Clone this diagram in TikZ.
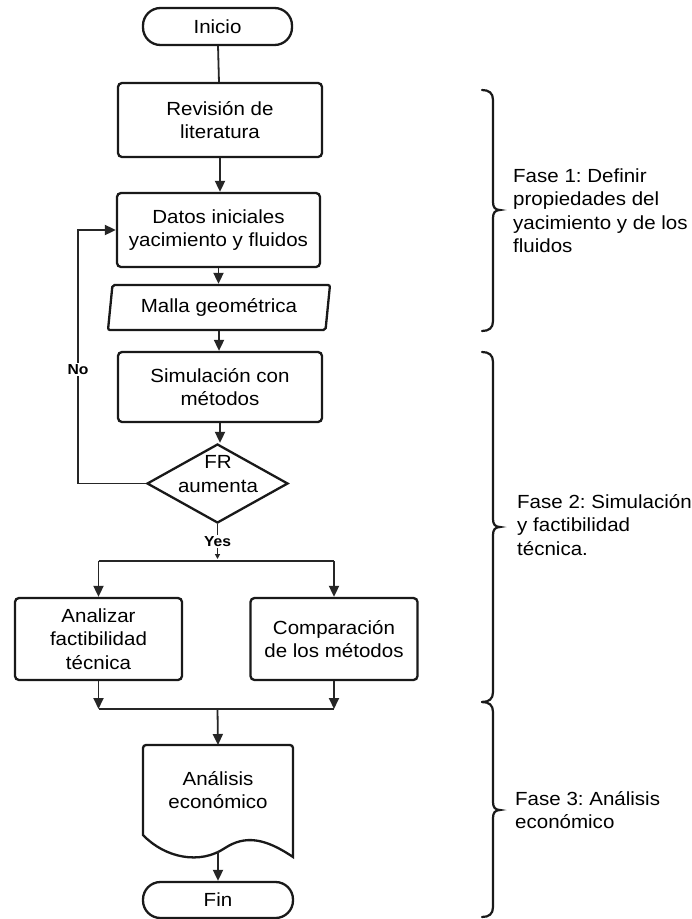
\documentclass[tikz,border=0pt]{standalone}
\usepackage{fontspec}
\setmainfont{Liberation Sans}[FakeStretch=1.08]
\frenchspacing
\usetikzlibrary{shapes.geometric,arrows.meta,calc}
\newcommand\phbrace[3]{%
  \draw[brc] (482,#1) .. controls (489,#1) and (493,#1+3) .. (493,#1+10)
    -- (493,#3-8) .. controls (493,#3-3) and (495,#3) .. (500,#3)
    .. controls (495,#3) and (493,#3+3) .. (493,#3+8)
    -- (493,#2-10) .. controls (493,#2-3) and (489,#2) .. (482,#2);}
\begin{document}
\begin{tikzpicture}[x=1pt,y=-1pt,
  every node/.style={font=\fontsize{19}{23.5}\selectfont, text=black},
  box/.style={draw=black!90, line width=2.3pt, rounded corners=4pt, align=center, inner sep=0pt},
  term/.style={draw=black!90, line width=2.3pt, rounded corners=17.5pt, inner sep=0pt},
  conn/.style={line width=1.8pt, draw=black!85},
  arr/.style={conn, -{Triangle[length=11pt,width=10pt]}},
  lbl/.style={font=\bfseries\fontsize{14.5}{16}\selectfont, fill=white, inner sep=1.5pt},
  phase/.style={align=left, anchor=west, inner sep=0pt},
  brc/.style={line width=2.2pt, line cap=round, draw=black!90}
]
\fill[white] (0,0) rectangle (692,919);
\useasboundingbox (0,0) rectangle (692,919);

% nodes
\node[term, minimum width=149pt, minimum height=37pt] (inicio) at (217.5,26.5) {Inicio};
\node[box, minimum width=204pt, minimum height=74pt] (rev) at (220,120) {Revisión de\\literatura};
\node[box, minimum width=203pt, minimum height=74pt] (datos) at (218.5,230) {Datos iniciales\\yacimiento y fluidos};
\node[draw=black!90, line width=2.3pt, trapezium, trapezium left angle=76, trapezium right angle=104,
      trapezium stretches body, minimum width=222pt, minimum height=45pt, inner sep=0pt, rounded corners=2pt]
      (malla) at (219,307.5) {Malla geométrica};
\node[box, minimum width=204pt, minimum height=70pt] (sim) at (220,387) {Simulación con\\métodos};
\node[draw=black!90, line width=2.3pt, diamond, minimum width=141pt, minimum height=79pt, inner sep=0pt] (fr) at (217.5,483.5) {};
\node[align=center, inner sep=0pt] (frtext) at (218,474) {FR\\aumenta};
\node[box, minimum width=167pt, minimum height=82pt] (anal) at (98.5,639) {Analizar\\factibilidad\\técnica};
\node[box, minimum width=167pt, minimum height=82pt] (comp) at (334,639) {Comparación\\de los métodos};
\draw[line width=2.3pt, draw=black!90] (143,835) [rounded corners=3pt] -- (143,745) -- (293,745) [sharp corners] -- (293,857)
   .. controls (265,838) and (245,835) .. (225,848) .. controls (200,865) and (165,858) .. (143,835) -- cycle;
\node[align=center, inner sep=0pt] (doc) at (218,790) {Análisis\\económico};
\coordinate (doctop) at (218,745);
\coordinate (docbot) at (218,851);
\node[term, minimum width=150pt, minimum height=36pt] (fin) at (218,900) {Fin};

% connectors
\draw[conn] (inicio) -- (rev);
\draw[arr] (rev) -- (rev.south |- datos.north);
\draw[arr] (datos.south) -- (datos.south |- malla.north);
\draw[arr] (malla.south) -- (malla.south |- sim.north);
\draw[arr] (sim.south) -- (sim.south |- fr.north);
\coordinate (loopc) at (78,483.5);
\draw[arr] (fr.west) -- (loopc) |- node[lbl, pos=0.224] {No} (datos.west);
\coordinate (split) at (217.5,561);
\draw[conn, -{Triangle[length=5pt,width=5pt]}] (fr.south) -- node[lbl] {Yes} ($(split)+(0,-2)$);
\draw[conn] (anal.north |- split) -- (comp.north |- split);
\draw[arr] (anal.north |- split) -- (anal.north);
\draw[arr] (comp.north |- split) -- (comp.north);
\coordinate (join) at (217.5,709);
\draw[arr] (anal.south) -- (anal.south |- join);
\draw[arr] (comp.south) -- (comp.south |- join);
\draw[conn] (anal.south |- join) -- (comp.south |- join);
\draw[arr] (join) -- (doctop);
\draw[arr] (docbot) -- (fin);

% phase braces
\phbrace{90}{331}{210}
\phbrace{352}{702}{527}
\phbrace{702}{917}{810}
\node[phase] (f1) at (513,210.5) {Fase 1: Definir\\propiedades del\\yacimiento y de los\\fluidos};
\node[phase] (f2) at (517,525) {Fase 2: Simulación\\y factibilidad\\técnica.};
\node[phase] (f3) at (515,810) {Fase 3: Análisis\\económico};
\end{tikzpicture}
\end{document}
